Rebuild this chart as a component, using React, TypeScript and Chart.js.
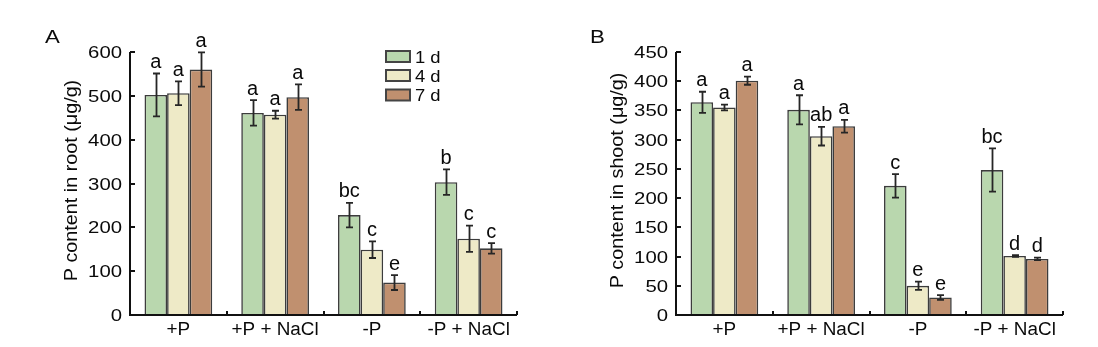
import React, { useEffect, useRef } from 'react';
import { Chart, registerables } from 'chart.js';

Chart.register(...registerables);

// ---------- data ----------
const categories = ['+P', '+P + NaCl', '-P', '-P + NaCl'];
const seriesLabels = ['1 d', '4 d', '7 d'];
const seriesColors = ['#b9d7ae', '#eeeac7', '#c0906f'];

const rootMeans1 = [502, 461, 228, 303];
const rootMeans4 = [506, 457, 149, 174];
const rootMeans7 = [560, 497, 74, 152];
const rootErr1 = [49, 29, 28, 29];
const rootErr4 = [27, 9, 19, 30];
const rootErr7 = [39, 29, 17, 12];
const rootLetters1 = ['a', 'a', 'bc', 'b'];
const rootLetters4 = ['a', 'a', 'c', 'c'];
const rootLetters7 = ['a', 'a', 'e', 'c'];
const rootTicks = [0, 100, 200, 300, 400, 500, 600];

const shootMeans1 = [364, 351, 221, 248];
const shootMeans4 = [355, 306, 50, 101];
const shootMeans7 = [401, 323, 30, 96];
const shootErr1 = [18, 25, 20, 37];
const shootErr4 = [5, 16, 7, 1.5];
const shootErr7 = [7, 11, 4, 2];
const shootLetters1 = ['a', 'a', 'c', 'bc'];
const shootLetters4 = ['a', 'ab', 'e', 'd'];
const shootLetters7 = ['a', 'a', 'e', 'd'];
const shootTicks = [0, 50, 100, 150, 200, 250, 300, 350, 400, 450];

const FONT = '"Liberation Sans", Arial, Helvetica, sans-serif';

type PanelCfg = {
  id: string;
  panelLabel: string;
  panelLabelX: number;
  title: string;
  means: number[][];
  errors: number[][];
  letters: string[][];
  ticks: number[];
  padLeft: number;
  padRight: number;
  showLegend: boolean;
};

function txt(
  ctx: CanvasRenderingContext2D,
  s: string,
  x: number,
  y: number,
  size: number,
  align: CanvasTextAlign = 'left',
  sx = 1,
  rot = 0,
  color = '#0a0a0a'
) {
  ctx.save();
  ctx.translate(x, y);
  if (rot) ctx.rotate(rot);
  ctx.scale(sx, 1);
  ctx.font = `${size}px ${FONT}`;
  ctx.textAlign = align;
  ctx.textBaseline = 'alphabetic';
  ctx.fillStyle = color;
  ctx.fillText(s, 0, 0);
  ctx.restore();
}

function makePlugin(cfg: PanelCfg) {
  return {
    id: 'decor' + cfg.id,
    afterDatasetsDraw(chart: any) {
      const ctx: CanvasRenderingContext2D = chart.ctx;
      const { left, right, top, bottom } = chart.chartArea;
      const ys = chart.scales.y;
      const xs = chart.scales.x;
      ctx.save();

      // error bars + letters
      chart.data.datasets.forEach((ds: any, di: number) => {
        const meta = chart.getDatasetMeta(di);
        meta.data.forEach((bar: any, i: number) => {
          const v = ds.data[i] as number;
          const e = cfg.errors[di][i];
          const cx = Math.round(bar.x) + 0.5;
          const yT = ys.getPixelForValue(v + e);
          const yB = ys.getPixelForValue(v - e);
          ctx.strokeStyle = '#262626';
          ctx.lineWidth = 1.8;
          ctx.beginPath();
          ctx.moveTo(cx, yT);
          ctx.lineTo(cx, yB);
          ctx.moveTo(cx - 3.5, yT);
          ctx.lineTo(cx + 3.5, yT);
          ctx.moveTo(cx - 3.5, yB);
          ctx.lineTo(cx + 3.5, yB);
          ctx.stroke();
          txt(ctx, cfg.letters[di][i], bar.x, yT - 5.5, 20, 'center');
        });
      });

      // axes
      ctx.strokeStyle = '#111';
      ctx.lineWidth = 2;
      ctx.beginPath();
      ctx.moveTo(left, top);
      ctx.lineTo(left, bottom + 1);
      ctx.moveTo(left - 1, bottom);
      ctx.lineTo(right, bottom);
      ctx.stroke();

      // y ticks (inward) + labels
      cfg.ticks.forEach((t) => {
        const py = Math.round(ys.getPixelForValue(t));
        ctx.beginPath();
        ctx.moveTo(left, py);
        ctx.lineTo(left + 5, py);
        ctx.stroke();
        txt(ctx, String(t), left - 8, py + 5.8, 16, 'right', 1.27);
      });

      // x boundary ticks (inward) + labels
      const n = categories.length;
      const cw = (right - left) / n;
      for (let k = 1; k <= n; k++) {
        const px = Math.round(left + cw * k);
        ctx.beginPath();
        ctx.moveTo(px, bottom);
        ctx.lineTo(px, bottom - 4);
        ctx.stroke();
      }
      categories.forEach((c, i) => {
        txt(ctx, c, xs.getPixelForValue(i), 334.5, 18, 'center', 1.05);
      });

      // y title
      txt(ctx, cfg.title, left - 53, (top + bottom) / 2 - 3, 19, 'center', 1.04, -Math.PI / 2);

      // panel label
      txt(ctx, cfg.panelLabel, cfg.panelLabelX, 43, 18.5, 'left', 1.2);

      // legend
      if (cfg.showLegend) {
        const rowsTop = [51, 70, 89.5];
        seriesLabels.forEach((lab, i) => {
          const bx = 386;
          const by = rowsTop[i];
          ctx.fillStyle = seriesColors[i];
          ctx.fillRect(bx, by, 24, 11);
          ctx.strokeStyle = '#444';
          ctx.lineWidth = 2;
          ctx.strokeRect(bx, by, 24, 11);
          txt(ctx, lab, 415, by + 11.7, 16, 'left', 1.15);
        });
      }
      ctx.restore();
    },
  };
}

function Panel({ cfg }: { cfg: PanelCfg }) {
  const ref = useRef<HTMLCanvasElement>(null);
  useEffect(() => {
    const canvas = ref.current!;
    const chart = new Chart(canvas, {
      type: 'bar',
      data: {
        labels: categories,
        datasets: cfg.means.map((m, i) => ({
          label: seriesLabels[i],
          data: m,
          backgroundColor: seriesColors[i],
          borderColor: '#3c3c3c',
          borderWidth: 1.6,
          categoryPercentage: 0.7,
          barPercentage: 1,
        })),
      },
      options: {
        animation: false,
        responsive: false,
        devicePixelRatio: 1,
        layout: { padding: { left: cfg.padLeft, right: cfg.padRight, top: 52, bottom: 32 } },
        plugins: { legend: { display: false }, tooltip: { enabled: false }, title: { display: false } },
        scales: {
          x: { display: false, offset: true },
          y: {
            display: false,
            min: cfg.ticks[0],
            max: cfg.ticks[cfg.ticks.length - 1],
          },
        },
      },
      plugins: [makePlugin(cfg)],
    } as any);
    return () => chart.destroy();
  }, []);
  return (
    <canvas
      ref={ref}
      width={549}
      height={347}
      style={{ display: 'block', width: 549, height: 347 }}
    />
  );
}

const panelA: PanelCfg = {
  id: 'A',
  panelLabel: 'A',
  panelLabelX: 45,
  title: 'P content in root (μg/g)',
  means: [rootMeans1, rootMeans4, rootMeans7],
  errors: [rootErr1, rootErr4, rootErr7],
  letters: [rootLetters1, rootLetters4, rootLetters7],
  ticks: rootTicks,
  padLeft: 130,
  padRight: 32,
  showLegend: true,
};

const panelB: PanelCfg = {
  id: 'B',
  panelLabel: 'B',
  panelLabelX: 41,
  title: 'P content in shoot (μg/g)',
  means: [shootMeans1, shootMeans4, shootMeans7],
  errors: [shootErr1, shootErr4, shootErr7],
  letters: [shootLetters1, shootLetters4, shootLetters7],
  ticks: shootTicks,
  padLeft: 127,
  padRight: 35,
  showLegend: false,
};

export default function App() {
  return (
    <div
      style={{
        position: 'absolute',
        left: 0,
        top: 0,
        width: 1098,
        height: 347,
        display: 'flex',
        background: '#fff',
      }}
    >
      <Panel cfg={panelA} />
      <Panel cfg={panelB} />
    </div>
  );
}
